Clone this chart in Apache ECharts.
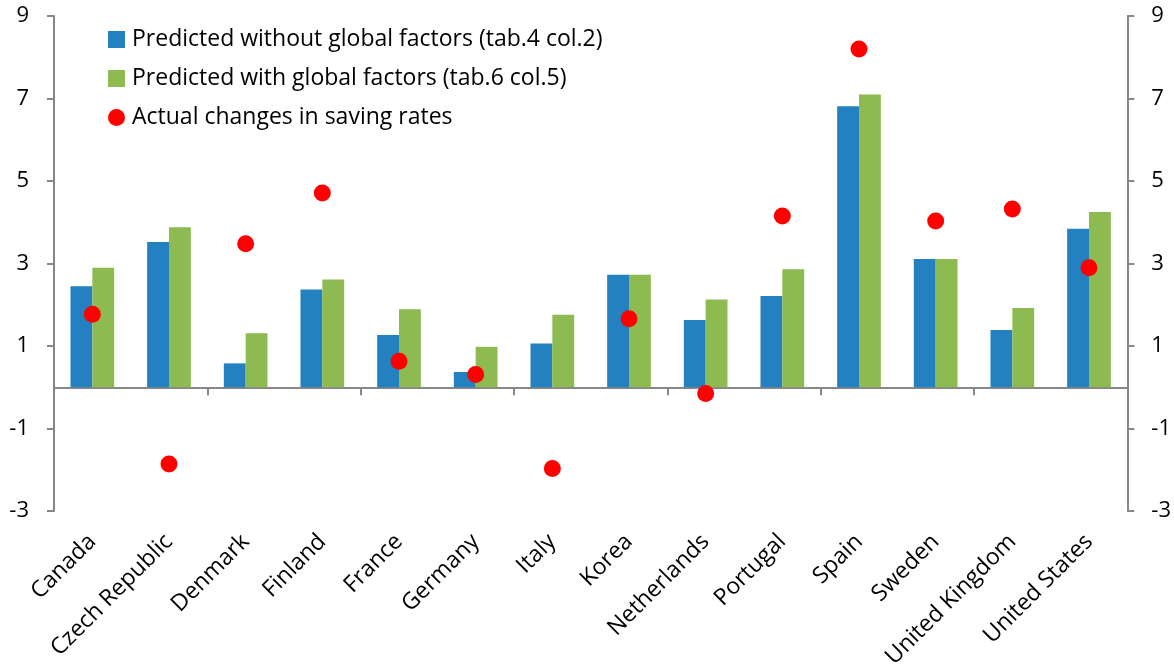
<!DOCTYPE html>
<html>
<head>
<meta charset="utf-8">
<script src="https://cdn.jsdelivr.net/npm/echarts@6/dist/echarts.min.js"></script>
<style>
  html, body { margin: 0; padding: 0; background: #fff; }
  #chart { width: 1174px; height: 671px; }
</style>
</head>
<body>
<div id="chart"></div>
<script>
// Countries on the category axis
const categories = ['Canada', 'Czech Republic', 'Denmark', 'Finland', 'France', 'Germany', 'Italy',
  'Korea', 'Netherlands', 'Portugal', 'Spain', 'Sweden', 'United Kingdom', 'United States'];

// Predicted changes in saving rates, two model specifications
const predictedWithout = [2.45, 3.52, 0.58, 2.37, 1.27, 0.37, 1.06, 2.73, 1.63, 2.21, 6.81, 3.11, 1.39, 3.84];
const predictedWith = [2.90, 3.88, 1.31, 2.61, 1.89, 0.98, 1.76, 2.73, 2.13, 2.86, 7.10, 3.11, 1.92, 4.25];

// Observed changes in saving rates
const actualChanges = [1.77, -1.86, 3.48, 4.71, 0.63, 0.31, -1.97, 1.66, -0.15, 4.15, 8.20, 4.03, 4.32, 2.90];

// Value axis range and tick spacing
const yMin = -3, yMax = 9, yStep = 2;

const FONT = '"Open Sans"';
const AXIS_GREY = '#878787';
const TEXT = '#000';

const chart = echarts.init(document.getElementById('chart'), null, { renderer: 'canvas' });

const valueAxis = (position) => ({
  type: 'value',
  position,
  min: yMin,
  max: yMax,
  interval: yStep,
  splitLine: { show: false },
  axisLine: { show: true, onZero: false, lineStyle: { color: AXIS_GREY, width: 2 } },
  axisTick: { show: true, length: 7, lineStyle: { color: AXIS_GREY, width: 2 } },
  axisLabel: { margin: position === 'left' ? 25 : 24, color: TEXT, fontFamily: FONT, fontSize: 22 }
});

chart.setOption({
  animation: false,
  backgroundColor: '#fff',
  grid: { left: 54, right: 45, top: 16, bottom: 159, containLabel: false },
  legend: {
    orient: 'vertical',
    left: 103,
    top: 23,
    itemWidth: 17,
    itemHeight: 17,
    itemGap: 16,
    textStyle: { color: TEXT, fontFamily: FONT, fontSize: 23, padding: [0, 0, 0, 2] },
    data: [
      { name: 'Predicted without global factors (tab.4 col.2)', icon: 'rect' },
      { name: 'Predicted with global factors (tab.6 col.5)', icon: 'rect' },
      { name: 'Actual changes in saving rates', icon: 'circle' }
    ]
  },
  xAxis: [
    {
      // zero line with category boundary ticks
      type: 'category',
      data: categories,
      position: 'top',
      axisLine: { show: true, onZero: true, lineStyle: { color: AXIS_GREY, width: 2 } },
      axisTick: { show: true, inside: true, length: 8, lineStyle: { color: AXIS_GREY, width: 2 } },
      axisLabel: { show: false },
      splitLine: { show: false }
    },
    {
      // country names along the bottom of the plot
      type: 'category',
      data: categories,
      position: 'bottom',
      axisLine: { show: false, onZero: false },
      axisTick: { show: false },
      axisLabel: {
        rotate: 45, margin: 27, interval: 0,
        color: TEXT, fontFamily: FONT, fontSize: 23
      },
      splitLine: { show: false }
    }
  ],
  yAxis: [valueAxis('left'), valueAxis('right')],
  series: [
    {
      name: 'Predicted without global factors (tab.4 col.2)',
      type: 'bar',
      xAxisIndex: 1,
      data: predictedWithout,
      barGap: '0%',
      barCategoryGap: '43%',
      itemStyle: { color: '#2380C1' }
    },
    {
      name: 'Predicted with global factors (tab.6 col.5)',
      type: 'bar',
      xAxisIndex: 1,
      data: predictedWith,
      itemStyle: { color: '#8DBB51' }
    },
    {
      name: 'Actual changes in saving rates',
      type: 'scatter',
      xAxisIndex: 1,
      data: actualChanges,
      symbol: 'circle',
      symbolSize: 17,
      z: 5,
      itemStyle: { color: '#FF0000', opacity: 1 }
    }
  ]
});
</script>
</body>
</html>
